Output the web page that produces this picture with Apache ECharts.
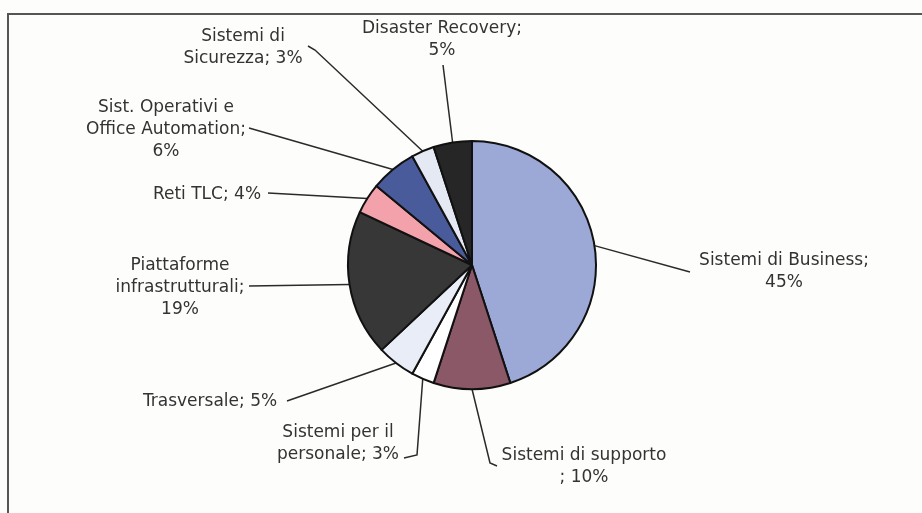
<!DOCTYPE html>
<html>
<head>
<meta charset="utf-8">
<script src="https://cdn.jsdelivr.net/npm/echarts@6/dist/echarts.min.js"></script>
<style>
html,body{margin:0;padding:0;background:#fdfdfb;}
#c{width:922px;height:513px;}
</style>
</head>
<body>
<div id="c"></div>
<script>
// ---- data ----
const categories = [
  'Sistemi di Business',
  'Sistemi di supporto',
  'Sistemi per il personale',
  'Trasversale',
  'Piattaforme infrastrutturali',
  'Reti TLC',
  'Sist. Operativi e Office Automation',
  'Sistemi di Sicurezza',
  'Disaster Recovery'
];
const values = [45, 10, 3, 5, 19, 4, 6, 3, 5];
const labelTemplates = [
  'Sistemi di Business;\n{v}%',
  'Sistemi di supporto\n; {v}%',
  'Sistemi per il\npersonale; {v}%',
  'Trasversale; {v}%',
  'Piattaforme\ninfrastrutturali;\n{v}%',
  'Reti TLC; {v}%',
  'Sist. Operativi e\nOffice Automation;\n{v}%',
  'Sistemi di\nSicurezza; {v}%',
  'Disaster Recovery;\n{v}%'
];
const colors = ['#9ca9d6', '#8b5868', '#ffffff', '#e9edf8', '#373737', '#f3a2ab', '#4a5b9c', '#e5e9f3', '#262626'];

// label placement (text centre, leader-line bend and end), in pixels
const labelPlacement = [
  { t: [784, 272], pts: [[690, 272]] },
  { t: [584, 467], pts: [[490, 463], [497, 466]] },
  { t: [338, 444], pts: [[417, 455], [404, 458]] },
  { t: [210, 402], pts: [[287, 401]] },
  { t: [180, 288], pts: [[249, 286]] },
  { t: [207, 195], pts: [[268, 193]] },
  { t: [166, 130], pts: [[249, 128]] },
  { t: [243, 48],  pts: [[315, 50], [308, 46]] },
  { t: [442, 40],  pts: [[443, 65]] }
];

const chart = echarts.init(document.getElementById('c'), null, { renderer: 'canvas' });
chart.setOption({
  backgroundColor: '#fdfdfb',
  animation: false,
  graphic: [{
    type: 'rect',
    shape: { x: 8, y: 14, width: 1000, height: 1000 },
    style: { fill: 'none', stroke: '#555', lineWidth: 2 }
  }],
  series: [{
    type: 'pie',
    center: [472, 265],
    radius: [0, 124],
    startAngle: 90,
    clockwise: true,
    avoidLabelOverlap: false,
    data: categories.map((n, i) => ({ name: n, value: values[i], itemStyle: { color: colors[i] } })),
    itemStyle: { borderColor: '#111', borderWidth: 2 },
    label: {
      show: true,
      position: 'outside',
      fontFamily: 'DejaVu Sans',
      fontSize: 17,
      lineHeight: 22,
      color: '#333',
      align: 'center',
      formatter: p => labelTemplates[p.dataIndex].replace('{v}', p.value)
    },
    labelLine: {
      show: true,
      length: 20,
      length2: 10,
      lineStyle: { color: '#2a2a2a', width: 1.5 }
    },
    labelLayout: function (p) {
      const a = labelPlacement[p.dataIndex];
      const start = (p.labelLinePoints && p.labelLinePoints[0]) || a.pts[0];
      return {
        x: a.t[0],
        y: a.t[1],
        align: 'center',
        verticalAlign: 'middle',
        labelLinePoints: [start].concat(a.pts)
      };
    },
    emphasis: { disabled: true }
  }]
});
</script>
</body>
</html>
